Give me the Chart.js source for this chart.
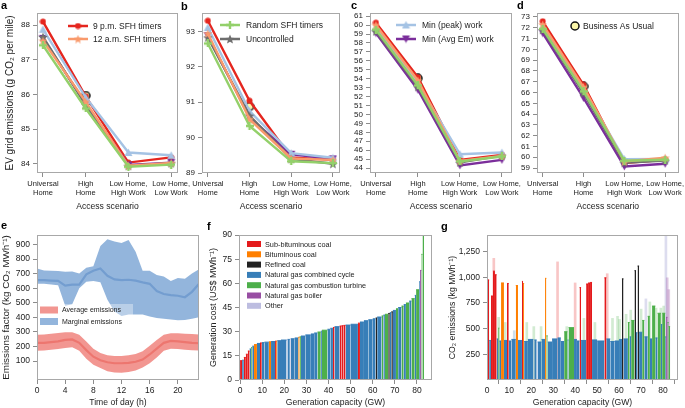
<!DOCTYPE html>
<html>
<head>
<meta charset="utf-8">
<script src="https://cdn.jsdelivr.net/npm/chart.js@4.4.0/dist/chart.umd.min.js"></script>
<style>
  body { margin: 0; background: #fff; width: 685px; height: 408px; position: relative; overflow: hidden; font-family: 'Liberation Sans', Arial, sans-serif; }
  canvas { position: absolute; }
  .tag { position: absolute; font-weight: bold; font-size: 11px; line-height: 11px; color: #000; }
</style>
</head>
<body>
<canvas id="chartA" width="192" height="214" style="left:0;top:0"></canvas>
<canvas id="chartB" width="190" height="214" style="left:172px;top:0"></canvas>
<canvas id="chartC" width="185" height="214" style="left:345px;top:0"></canvas>
<canvas id="chartD" width="175" height="214" style="left:510px;top:0"></canvas>
<canvas id="chartE" width="205" height="186" style="left:0;top:222px"></canvas>
<canvas id="chartF" width="235" height="186" style="left:205px;top:222px"></canvas>
<canvas id="chartG" width="245" height="186" style="left:440px;top:222px"></canvas>
<div class="tag" style="left:1px;top:0">a</div>
<div class="tag" style="left:181px;top:1px">b</div>
<div class="tag" style="left:351px;top:0">c</div>
<div class="tag" style="left:517px;top:0">d</div>
<div class="tag" style="left:1px;top:220px">e</div>
<div class="tag" style="left:207px;top:221px">f</div>
<div class="tag" style="left:441px;top:221px">g</div>
<script>
// panels a-d : EV grid emissions per access scenario
const scenarios = [["Universal", "Home"], ["High", "Home"], ["Low Home,", "High Work"], ["Low Home,", "Low Work"]];

const a9pm = [88.10, 85.95, 84.04, 84.19];
const a12am = [87.55, 85.79, 83.95, 84.03];
const aRandom = [87.42, 85.60, 83.92, 83.98];
const aUncontrolled = [87.66, 85.70, 83.95, 84.02];
const aMinPeak = [87.88, 85.92, 84.33, 84.25];
const aMinAvgEm = [87.62, 85.74, 83.97, 84.04];
const aBAU = 85.97;
const aTicks = [84, 85, 86, 87, 88];

const b9pm = [93.30, 91.04, 89.44, 89.37];
const b12am = [92.94, 90.52, 89.41, 89.37];
const bRandom = [92.66, 90.33, 89.33, 89.28];
const bUncontrolled = [92.83, 90.62, 89.40, 89.26];
const bMinPeak = [93.11, 90.75, 89.56, 89.43];
const bMinAvgEm = [92.88, 90.57, 89.53, 89.40];
const bBAU = 90.88;
const bTicks = [89, 90, 91, 92, 93];

const c9pm = [60.26, 54.16, 44.92, 45.48];
const c12am = [60.00, 53.80, 44.80, 45.37];
const cRandom = [59.50, 53.25, 44.74, 45.30];
const cUncontrolled = [59.30, 53.10, 44.63, 45.40];
const cMinPeak = [59.70, 53.45, 45.55, 45.74];
const cMinAvgEm = [59.10, 52.76, 44.30, 44.92];
const cBAU = 54.05;
const cTicks = [44, 45, 46, 47, 48, 49, 50, 51, 52, 53, 54, 55, 56, 57, 58, 59, 60, 61];

const d9pm = [72.60, 66.70, 59.46, 59.77];
const d12am = [72.30, 66.50, 59.60, 59.95];
const dRandom = [71.90, 66.10, 59.67, 59.77];
const dUncontrolled = [71.80, 65.95, 59.50, 59.70];
const dMinPeak = [72.10, 66.30, 59.83, 59.85];
const dMinAvgEm = [71.50, 65.50, 59.15, 59.40];
const dBAU = 66.57;
const dTicks = [59, 60, 61, 62, 63, 64, 65, 66, 67, 68, 69, 70, 71, 72, 73];

// panel e : hourly emissions factors
const hours = [0, 1, 2, 3, 4, 5, 6, 7, 8, 9, 10, 11, 12, 13, 14, 15, 16, 17, 18, 19, 20, 21, 22, 23];
const avgMean = [225, 225, 230, 235, 245, 248, 225, 175, 130, 105, 92, 85, 85, 88, 95, 110, 145, 185, 225, 238, 235, 230, 225, 222];
const avgUpper = [280, 283, 287, 292, 297, 298, 280, 235, 185, 155, 140, 135, 135, 140, 148, 168, 205, 245, 280, 290, 290, 288, 285, 282];
const avgLower = [170, 172, 178, 182, 190, 195, 170, 115, 75, 52, 30, 22, 20, 25, 35, 55, 85, 125, 170, 185, 183, 178, 175, 172];
const margMean = [655, 655, 652, 650, 618, 625, 625, 695, 720, 735, 685, 660, 655, 658, 652, 640, 630, 580, 560, 552, 548, 538, 575, 630];
const margUpper = [735, 722, 720, 718, 712, 715, 700, 740, 750, 890, 935, 920, 910, 930, 850, 720, 720, 690, 680, 650, 670, 665, 700, 730];
const margLower = [630, 630, 625, 620, 480, 490, 600, 645, 650, 640, 520, 440, 410, 420, 420, 420, 405, 395, 390, 385, 380, 382, 390, 400];
const eHourTicks = [0, 4, 8, 12, 16, 20];
const eTicks = [100, 200, 300, 400, 500, 600, 700, 800, 900];

// panels f, g : generators in merit order
const fuelTypes = ["Sub-bituminous coal", "Bituminous coal", "Refined coal", "Natural gas combined cycle",
  "Natural gas combustion turbine", "Natural gas boiler", "Other"];
const fuelColors = ["#e41a1c", "#ff7f00", "#222222", "#377eb8", "#4daf4a", "#984ea3", "#bdbde0"];
const fuelFaint = ["rgba(228,26,28,0.25)", "rgba(255,127,0,0.3)", "rgba(34,34,34,0.3)", "rgba(55,126,184,0.25)",
  "rgba(77,175,74,0.25)", "rgba(152,78,163,0.3)", "rgba(170,170,215,0.4)"];

const unitCapacity = [0.9, 0.8, 0.9, 0.9, 0.8, 0.7, 0.5, 0.8, 1.3, 1.4,
  0.8, 1.2, 2.0, 1.0, 1.8, 0.5, 0.5, 1.7, 2.5, 0.4,
  1.1, 0.4, 1.8, 1.6, 0.6, 0.6, 2.0, 2.5, 1.5, 1.5,
  1.5, 0.5, 2.5, 1.3, 1.2, 0.7, 2.3, 0.9, 0.9, 0.9,
  2.3, 3.3, 0.9, 1.8, 2.0, 2.0, 1.3, 0.7, 2.0, 0.8,
  0.7, 1.5, 0.7, 0.7, 0.7, 1.4, 1.0, 1.5, 1.0, 1.0,
  1.5, 1.0, 1.5, 0.6, 1.4, 0.4, 0.6, 0.5, 0.7];
const unitFuel = [0, 3, 0, 0, 0, 3, 4, 3, 1, 3,
  0, 3, 3, 1, 3, 0, 1, 3, 3, 6,
  3, 6, 3, 3, 1, 4, 3, 3, 3, 3,
  4, 3, 4, 3, 3, 0, 3, 0, 0, 0,
  3, 3, 0, 3, 3, 3, 3, 2, 3, 4,
  3, 4, 2, 3, 2, 3, 4, 3, 4, 3,
  4, 3, 4, 3, 4, 3, 5, 4, 4];
const unitCost = [12.0, 12.3, 14.0, 16.0, 18.0, 19.3, 20.2, 21.0, 22.0, 22.7,
  23.0, 23.2, 23.5, 23.7, 23.9, 24.1, 24.2, 24.4, 24.8, 25.0,
  25.2, 25.4, 25.6, 26.1, 26.5, 26.8, 27.3, 28.0, 28.6, 29.2,
  29.8, 30.3, 30.9, 31.5, 32.1, 32.6, 33.1, 33.5, 33.7, 33.9,
  34.1, 34.6, 35.3, 36.0, 36.8, 37.4, 38.0, 38.5, 39.1, 39.8,
  40.3, 40.8, 41.3, 41.8, 42.3, 43.2, 44.2, 45.0, 45.9, 46.8,
  47.8, 49.0, 50.5, 52.5, 56.0, 61.0, 68.0, 78.0, 95.0];
const unitEmission = [975, 385, 818, 1060, 1025, 400, 505, 380, 945, 385,
  940, 380, 395, 920, 385, 960, 940, 375, 395, 380,
  390, 370, 370, 395, 990, 430, 370, 400, 410, 375,
  470, 390, 510, 395, 380, 900, 385, 935, 945, 950,
  390, 380, 995, 400, 375, 380, 395, 985, 400, 560,
  420, 580, 1065, 460, 1110, 465, 580, 420, 620, 400,
  720, 410, 650, 540, 650, 420, 610, 560, 520];

// lighter overlay spikes in panel g
const gFaintX = [3.0, 5.2, 8.2, 12.3, 18.0, 21.2, 24.5, 32.0, 36.2, 40.0, 44.0, 49.0, 54.6, 57.0,
  59.3, 60.2, 63.2, 65.3, 70.0, 72.2, 74.0, 76.8, 79.0, 80.3, 81.3, 81.9, 82.6];
const gFaintY = [1185, 610, 560, 480, 560, 520, 520, 1150, 520, 945, 600, 560, 1035, 600,
  620, 590, 640, 680, 690, 790, 760, 700, 700, 720, 1400, 995, 880];
const gFaintFuel = [0, 4, 4, 3, 4, 4, 4, 0, 4, 0, 4, 4, 0, 4,
  4, 4, 4, 4, 4, 6, 4, 4, 4, 4, 6, 5, 5];
const capTicks = [0, 10, 20, 30, 40, 50, 60, 70, 80];
const costTicks = [0, 15, 30, 45, 60, 75, 90];
const co2Ticks = [250, 500, 750, 1000, 1250];

// ------------------------------------------------------------------
const FONT = "'Liberation Sans', Arial, Helvetica, sans-serif";
Chart.defaults.font.family = FONT;
Chart.defaults.color = "#222";
Chart.defaults.animation = false;
Chart.defaults.plugins.legend.display = false;
Chart.defaults.plugins.tooltip.enabled = false;

// markers
function marker(shape, color, size, stroke) {
  const cv = document.createElement("canvas");
  cv.width = cv.height = size;
  const c = cv.getContext("2d");
  const m = size / 2;
  c.fillStyle = color;
  c.beginPath();
  if (shape === "circle") {
    c.arc(m, m, m - (stroke ? 1 : 0.5), 0, Math.PI * 2);
  } else if (shape === "star") {
    for (let i = 0; i < 10; i++) {
      const r = i % 2 ? m * 0.45 : m;
      const a = -Math.PI / 2 + i * Math.PI / 5;
      c.lineTo(m + r * Math.cos(a), m + 0.5 + r * Math.sin(a));
    }
  } else if (shape === "triUp") {
    c.moveTo(m, 0.5); c.lineTo(size - 0.5, size - 1); c.lineTo(0.5, size - 1);
  } else if (shape === "triDown") {
    c.moveTo(0.5, 1); c.lineTo(size - 0.5, 1); c.lineTo(m, size - 0.5);
  } else if (shape === "plus") {
    c.rect(m - 1.2, 0, 2.4, size); c.rect(0, m - 1.2, size, 2.4);
  }
  c.closePath();
  c.fill();
  if (stroke) { c.strokeStyle = stroke; c.lineWidth = 1.5; c.stroke(); }
  return cv;
}

const styles = {
  pm9: { label: "9 p.m. SFH timers", color: "#e5261f", pt: marker("circle", "#e5261f", 7) },
  am12: { label: "12 a.m. SFH timers", color: "#f99a6c", pt: marker("star", "#f99a6c", 9) },
  random: { label: "Random SFH timers", color: "#93d06a", pt: marker("plus", "#93d06a", 8) },
  unctl: { label: "Uncontrolled", color: "#6e6e6e", pt: marker("star", "#6e6e6e", 10) },
  minPeak: { label: "Min (peak) work", color: "#a5c3e4", pt: marker("triUp", "#a5c3e4", 9) },
  minAvg: { label: "Min (Avg Em) work", color: "#7b2e9b", pt: marker("triDown", "#7b2e9b", 9) },
  bau: { label: "Business As Usual", color: "#111", pt: marker("circle", "#fbf6a8", 10, "#111") }
};

// box around plot area
const frame = {
  id: "frame",
  afterDraw(chart) {
    const a = chart.chartArea, c = chart.ctx;
    c.save();
    c.strokeStyle = "#a8a8a8";
    c.lineWidth = 1;
    c.strokeRect(Math.round(a.left) + 0.5, Math.round(a.top) + 0.5, Math.round(a.right - a.left) - 1, Math.round(a.bottom - a.top) - 1);
    c.restore();
  }
};

// legends drawn inside plot areas (page coordinates)
const legendSpecs = {};
const insideLegend = {
  id: "insideLegend",
  afterDraw(chart) {
    const spec = legendSpecs[chart.canvas.id];
    if (!spec) return;
    const c = chart.ctx;
    const ox = spec.ox, oy = spec.oy;
    c.save();
    if (spec.bg) {
      c.fillStyle = spec.bg.color;
      c.fillRect(spec.bg.x - ox, spec.bg.y - oy, spec.bg.w, spec.bg.h);
    }
    c.font = spec.font;
    c.textBaseline = "middle";
    spec.items.forEach(it => {
      const x = it.x - ox, y = it.y - oy;
      if (it.kind === "line") {
        c.strokeStyle = it.style.color;
        c.lineWidth = 2.5;
        c.beginPath(); c.moveTo(x, y); c.lineTo(x + 20, y); c.stroke();
        c.drawImage(it.style.pt, x + 10 - it.style.pt.width / 2, y - it.style.pt.height / 2);
      } else if (it.kind === "point") {
        c.drawImage(it.style.pt, x - it.style.pt.width / 2, y - it.style.pt.height / 2);
      } else if (it.kind === "box") {
        c.fillStyle = it.color;
        c.fillRect(x, y - it.h / 2, it.w, it.h);
      }
      c.fillStyle = "#222";
      c.fillText(it.text, it.tx - ox, y + 0.5);
    });
    c.restore();
  }
};

function xAxis(o) {
  return {
    type: "linear", min: o.min, max: o.max, offset: false,
    afterBuildTicks: s => { s.ticks = o.ticks.map(v => ({ value: v })); },
    afterFit: s => { s.height = o.height; s.paddingLeft = 0; s.paddingRight = 0; },
    grid: { drawOnChartArea: false, drawTicks: true, tickLength: 4, color: "#8c8c8c" },
    border: { display: false },
    ticks: { autoSkip: false, maxRotation: 0, padding: 2, color: "#222",
      font: { size: o.tickSize, lineHeight: 1.2 }, callback: o.label || (v => v) },
    title: { display: true, text: o.title, color: "#222", font: { size: o.titleSize },
      padding: { top: 0, bottom: o.titlePad || 0 } }
  };
}

function yAxis(o) {
  return {
    type: "linear", min: o.min, max: o.max,
    afterBuildTicks: s => { s.ticks = o.ticks.map(v => ({ value: v })); },
    afterFit: s => { s.width = o.width; s.paddingTop = 0; s.paddingBottom = 0; },
    grid: { drawOnChartArea: false, drawTicks: true, tickLength: 4, color: "#8c8c8c" },
    border: { display: false },
    ticks: { autoSkip: false, padding: 3, color: "#222", font: { size: o.tickSize },
      callback: o.label || (v => v) },
    title: { display: !!o.title, text: o.title, color: "#222", font: { size: o.titleSize },
      padding: { top: o.titlePad || 0, bottom: 0 } }
  };
}

function scenarioPanel(id, series, bau, ticks, yMin, yMax, xMax, yWidth, padRight, yTitle) {
  const order = ["random", "am12", "unctl", "minPeak", "minAvg", "pm9"];
  const datasets = order.map(k => ({
    data: series[k].map((v, i) => ({ x: i, y: v })),
    borderColor: styles[k].color,
    backgroundColor: styles[k].color,
    borderWidth: 2.4,
    pointStyle: styles[k].pt,
    pointRadius: 4,
    fill: false
  }));
  datasets.push({
    data: [{ x: 1, y: bau }],
    showLine: false,
    pointStyle: styles.bau.pt,
    pointRadius: 5
  });
  return new Chart(document.getElementById(id), {
    type: "line",
    data: { datasets },
    options: {
      responsive: false,
      layout: { padding: { top: 13, right: padRight, bottom: 0, left: 0 } },
      scales: {
        x: xAxis({ min: -0.14, max: xMax, ticks: [0, 1, 2, 3], height: 41, tickSize: 7.5,
          label: v => scenarios[v], title: "Access scenario", titleSize: 8.6, titlePad: 2 }),
        y: yAxis({ min: yMin, max: yMax, ticks, width: yWidth, tickSize: 8,
          title: yTitle, titleSize: 10, titlePad: 4 })
      }
    },
    plugins: [frame, insideLegend]
  });
}

legendSpecs.chartA = { ox: 0, oy: 0, font: "8.5px " + FONT, items: [
  { kind: "line", style: styles.pm9, x: 68, y: 26, tx: 93, text: styles.pm9.label },
  { kind: "line", style: styles.am12, x: 68, y: 39, tx: 93, text: styles.am12.label }] };
legendSpecs.chartB = { ox: 172, oy: 0, font: "8.5px " + FONT, items: [
  { kind: "line", style: styles.random, x: 220, y: 25, tx: 246, text: styles.random.label },
  { kind: "line", style: styles.unctl, x: 220, y: 39, tx: 246, text: styles.unctl.label }] };
legendSpecs.chartC = { ox: 345, oy: 0, font: "8.5px " + FONT, items: [
  { kind: "line", style: styles.minPeak, x: 396, y: 25, tx: 422, text: styles.minPeak.label },
  { kind: "line", style: styles.minAvg, x: 396, y: 39, tx: 422, text: styles.minAvg.label }] };
legendSpecs.chartD = { ox: 510, oy: 0, font: "8.5px " + FONT, items: [
  { kind: "point", style: styles.bau, x: 575, y: 26, tx: 583, text: styles.bau.label }] };

scenarioPanel("chartA", { pm9: a9pm, am12: a12am, random: aRandom, unctl: aUncontrolled, minPeak: aMinPeak, minAvg: aMinAvgEm },
  aBAU, aTicks, 83.74, 88.35, 3.16, 37, 14, "EV grid emissions (g CO\u2082 per mile)");
scenarioPanel("chartB", { pm9: b9pm, am12: b12am, random: bRandom, unctl: bUncontrolled, minPeak: bMinPeak, minAvg: bMinAvgEm },
  bBAU, bTicks, 89.0, 93.52, 3.17, 30, 22, "");
scenarioPanel("chartC", { pm9: c9pm, am12: c12am, random: cRandom, unctl: cUncontrolled, minPeak: cMinPeak, minAvg: cMinAvgEm },
  cBAU, cTicks, 43.45, 61.35, 3.24, 25, 18, "");
scenarioPanel("chartD", { pm9: d9pm, am12: d12am, random: dRandom, unctl: dUncontrolled, minPeak: dMinPeak, minAvg: dMinAvgEm },
  dBAU, dTicks, 58.54, 73.37, 3.33, 27, 2, "");

// panel e
const toXY = arr => arr.map((v, i) => ({ x: hours[i], y: v }));
const blueBand = "rgba(128,168,214,0.85)", redBand = "rgba(240,132,126,0.85)";
legendSpecs.chartE = { ox: 0, oy: 222, font: "7px " + FONT,
  bg: { x: 40, y: 304, w: 93, h: 23, color: "rgba(255,255,255,0.35)" },
  items: [
    { kind: "box", color: redBand, x: 40, y: 310, w: 18, h: 7, tx: 62, text: "Average emissions" },
    { kind: "box", color: blueBand, x: 40, y: 321.5, w: 18, h: 7, tx: 62, text: "Marginal emissions" }] };
new Chart(document.getElementById("chartE"), {
  type: "line",
  data: { datasets: [
    { data: toXY(margUpper), borderColor: "transparent", borderWidth: 0, pointRadius: 0, fill: "+1", backgroundColor: blueBand, tension: 0 },
    { data: toXY(margLower), borderColor: "transparent", borderWidth: 0, pointRadius: 0, fill: false },
    { data: toXY(margMean), borderColor: "#2a62ab", borderWidth: 2.2, pointRadius: 0, fill: false },
    { data: toXY(avgUpper), borderColor: "transparent", borderWidth: 0, pointRadius: 0, fill: "+1", backgroundColor: redBand },
    { data: toXY(avgLower), borderColor: "transparent", borderWidth: 0, pointRadius: 0, fill: false },
    { data: toXY(avgMean), borderColor: "#db2a1f", borderWidth: 2.2, pointRadius: 0, fill: false }
  ] },
  options: {
    responsive: false,
    layout: { padding: { top: 13, right: 6, bottom: 0, left: 0 } },
    scales: {
      x: xAxis({ min: 0, max: 23, ticks: eHourTicks, height: 28, tickSize: 8.5, title: "Time of day (h)", titleSize: 8.6 }),
      y: yAxis({ min: -30, max: 965, ticks: eTicks, width: 37, tickSize: 8.5,
        title: "Emissions factor (kg CO\u2082 MWh\u207B\u00B9)", titleSize: 9.8, titlePad: 0 })
    }
  },
  plugins: [frame, insideLegend]
});

// panels f and g share the merit-order stack: one filled step per unit
function meritDatasets(values) {
  const sets = [];
  let x = 0;
  unitCapacity.forEach((w, i) => {
    const col = fuelColors[unitFuel[i]];
    sets.push({
      data: [{ x: x, y: values[i] }, { x: x + w, y: values[i] }],
      fill: "origin",
      pointRadius: 0,
      borderWidth: 1,
      borderColor: col,
      backgroundColor: col,
      order: 1
    });
    x += w;
  });
  return sets;
}

legendSpecs.chartF = { ox: 205, oy: 222, font: "7.3px " + FONT,
  items: fuelTypes.map((t, i) => ({ kind: "box", color: fuelColors[i], x: 247, y: 244 + i * 10.3, w: 14, h: 6, tx: 265, text: t })) };
new Chart(document.getElementById("chartF"), {
  type: "line",
  data: { datasets: meritDatasets(unitCost) },
  options: {
    responsive: false,
    layout: { padding: { top: 13, right: 8, bottom: 0, left: 0 } },
    scales: {
      x: xAxis({ min: -0.5, max: 86.8, ticks: capTicks, height: 28, tickSize: 8.5, title: "Generation capacity (GW)", titleSize: 8.6 }),
      y: yAxis({ min: 0, max: 90, ticks: costTicks, width: 34, tickSize: 8.5,
        title: "Generation cost (US$ MWh\u207B\u00B9)", titleSize: 9, titlePad: 3 })
    }
  },
  plugins: [frame, insideLegend]
});

new Chart(document.getElementById("chartG"), {
  type: "line",
  data: { datasets: meritDatasets(unitEmission).concat([
    { type: "bar", data: gFaintX.map((x, i) => ({ x, y: gFaintY[i] })),
      backgroundColor: gFaintFuel.map(f => fuelFaint[f]), barThickness: 2, grouped: false, order: 2 }
  ]) },
  options: {
    responsive: false,
    layout: { padding: { top: 13, right: 7, bottom: 0, left: 0 } },
    scales: {
      x: xAxis({ min: -0.1, max: 86.8, ticks: capTicks, height: 28, tickSize: 8.5, title: "Generation capacity (GW)", titleSize: 8.6 }),
      y: yAxis({ min: 0, max: 1412, ticks: co2Ticks, width: 47, tickSize: 8.5,
        label: v => v.toLocaleString("en-US"),
        title: "CO\u2082 emissions (kg MWh\u207B\u00B9)", titleSize: 8.7, titlePad: 7 })
    }
  },
  plugins: [frame]
});
</script>
</body>
</html>
